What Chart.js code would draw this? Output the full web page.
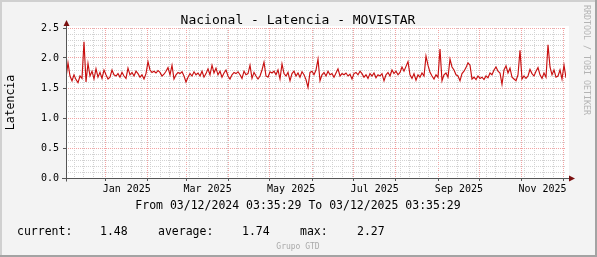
<!DOCTYPE html>
<html>
<head>
<meta charset="utf-8">
<script src="https://cdn.jsdelivr.net/npm/chart.js@4.4.1/dist/chart.umd.min.js"></script>
<style>
  html, body { margin: 0; padding: 0; background: #f3f3f3; }
  canvas { display: block; }
</style>
</head>
<body>
<canvas id="myChart" width="597" height="257"></canvas>
<script>
// daily-ish latency samples (left to right)
const latencia = [
    1.67, 1.92, 1.70, 1.62, 1.72, 1.64, 1.59, 1.70, 1.66, 2.27, 1.60, 1.91, 1.70, 1.78, 1.65, 1.82, 1.68, 1.76, 1.66, 1.80, 1.72, 1.65, 1.68, 1.80, 1.72,
    1.70, 1.74, 1.68, 1.76, 1.70, 1.66, 1.83, 1.72, 1.76, 1.70, 1.78, 1.74, 1.68, 1.72, 1.65, 1.74, 1.94, 1.80, 1.76, 1.78, 1.75, 1.79, 1.76, 1.70, 1.73,
    1.78, 1.84, 1.72, 1.88, 1.65, 1.72, 1.76, 1.74, 1.77, 1.70, 1.60, 1.68, 1.74, 1.70, 1.77, 1.72, 1.75, 1.70, 1.78, 1.68, 1.74, 1.82, 1.72, 1.88, 1.75,
    1.83, 1.72, 1.78, 1.68, 1.75, 1.80, 1.70, 1.65, 1.72, 1.76, 1.74, 1.77, 1.72, 1.66, 1.78, 1.72, 1.74, 1.88, 1.66, 1.76, 1.70, 1.65, 1.70, 1.80, 1.93,
    1.70, 1.68, 1.77, 1.75, 1.78, 1.72, 1.80, 1.65, 1.90, 1.74, 1.70, 1.76, 1.62, 1.74, 1.78, 1.70, 1.75, 1.68, 1.77, 1.72, 1.64, 1.51, 1.76, 1.78, 1.72,
    1.80, 1.98, 1.62, 1.72, 1.76, 1.70, 1.78, 1.72, 1.74, 1.68, 1.75, 1.82, 1.70, 1.74, 1.72, 1.75, 1.70, 1.73, 1.65, 1.74, 1.76, 1.72, 1.78, 1.74, 1.68,
    1.72, 1.66, 1.74, 1.70, 1.75, 1.67, 1.72, 1.70, 1.74, 1.62, 1.72, 1.76, 1.70, 1.80, 1.74, 1.78, 1.72, 1.76, 1.85, 1.78, 1.86, 1.94, 1.72, 1.66, 1.74,
    1.63, 1.72, 1.68, 1.75, 1.70, 2.03, 1.88, 1.76, 1.70, 1.65, 1.72, 1.68, 2.15, 1.62, 1.72, 1.75, 1.68, 1.98, 1.85, 1.80, 1.72, 1.70, 1.62, 1.74, 1.78,
    1.84, 1.92, 1.88, 1.65, 1.68, 1.64, 1.70, 1.66, 1.68, 1.64, 1.70, 1.67, 1.75, 1.72, 1.80, 1.85, 1.78, 1.75, 1.56, 1.80, 1.87, 1.75, 1.83, 1.68, 1.65,
    1.62, 1.72, 2.13, 1.65, 1.70, 1.66, 1.70, 1.81, 1.74, 1.70, 1.78, 1.84, 1.72, 1.66, 1.75, 1.68, 2.22, 1.85, 1.72, 1.80, 1.68, 1.70, 1.80, 1.65, 1.88, 1.67
];

const tickLabels = ['Jan 2025', 'Mar 2025', 'May 2025', 'Jul 2025', 'Sep 2025', 'Nov 2025'];
const labelMonths = [0, 2, 4, 6, 8, 10];   // months of 2025 that get a label

const legendNames = ['current:', 'average:', 'max:'];
const legendValues = ['1.48', '1.74', '2.27'];

const chartTitle = 'Nacional - Latencia - MOVISTAR';
const periodText = 'From 03/12/2024 03:35:29 To 03/12/2025 03:35:29';
const yTitle = 'Latencia';

const DAY = 86400000;
const startTime = Date.UTC(2024, 11, 3, 3, 35, 29);
const endTime = Date.UTC(2025, 11, 3, 3, 35, 29);
const spanDays = (endTime - startTime) / DAY;
const toDays = t => (t - startTime) / DAY;

const points = latencia.map((v, i) => ({ x: i * spanDays / (latencia.length - 1), y: v }));

const MONO = '"DejaVu Sans Mono", monospace';
Chart.defaults.font.family = MONO;

const majorGrid = '#f2a3a3';
const minorGrid = '#d2d2d2';

function buildTimeTicks(scale) {
    const ticks = [];
    const monthPos = [];
    for (let m = 0; m < 12; m++) {
        const d = toDays(Date.UTC(2025, m, 1));
        if (d > 0 && d < spanDays) {
            ticks.push({ value: d, kind: 'major' });
            monthPos.push(d);
        }
    }
    // weekly minor grid (mondays)
    for (let t = Date.UTC(2024, 11, 9); t < endTime; t += 7 * DAY) {
        const d = toDays(t);
        if (!monthPos.some(p => Math.abs(p - d) < 0.01)) ticks.push({ value: d, kind: 'minor' });
    }
    labelMonths.forEach((m, li) => {
        const mid = (toDays(Date.UTC(2025, m, 1)) + toDays(Date.UTC(2025, m + 1, 1))) / 2;
        ticks.push({ value: mid, kind: 'label', li: li });
    });
    ticks.sort((a, b) => a.value - b.value);
    scale.ticks = ticks;
}

const isMajorY = v => Math.round(v * 10) % 5 === 0;

const decor = {
    id: 'decor',
    beforeDraw(chart) {
        const c = chart.ctx, a = chart.chartArea;
        const W = chart.width, H = chart.height;
        c.save();
        c.fillStyle = '#f3f3f3';
        c.fillRect(0, 0, W, H);
        c.fillStyle = '#d0d0d0';
        c.fillRect(0, 0, W, 2);
        c.fillRect(0, 0, 2, H);
        c.fillStyle = '#a3a3a3';
        c.fillRect(0, H - 2, W, 2);
        c.fillRect(W - 2, 0, 2, H);
        c.fillStyle = '#ffffff';
        c.fillRect(a.left, a.top - 2, a.right - a.left + 3, a.bottom - a.top + 2);
        c.restore();
    },
    afterDraw(chart) {
        const c = chart.ctx, a = chart.chartArea;
        const x0 = Math.round(a.left) + 0.5, y0 = Math.round(a.bottom) + 0.5;
        c.save();
        // axes
        c.strokeStyle = '#555555';
        c.lineWidth = 1;
        c.beginPath();
        c.moveTo(x0, y0 + 3);
        c.lineTo(x0, a.top - 5);
        c.moveTo(a.left - 4, y0);
        c.lineTo(a.right + 5, y0);
        c.stroke();
        // arrows
        c.fillStyle = '#7a1010';
        c.beginPath();
        c.moveTo(x0, a.top - 8);
        c.lineTo(x0 - 3, a.top - 2);
        c.lineTo(x0 + 3, a.top - 2);
        c.closePath();
        c.fill();
        c.beginPath();
        c.moveTo(a.right + 9, y0);
        c.lineTo(a.right + 3, y0 - 3);
        c.lineTo(a.right + 3, y0 + 3);
        c.closePath();
        c.fill();

        // texts
        c.fillStyle = '#000000';
        c.textAlign = 'center';
        c.textBaseline = 'alphabetic';
        c.font = '13px ' + MONO;
        c.fillText(chartTitle, 298, 24);
        c.font = '11.5px ' + MONO;
        c.fillText(periodText, 298, 209);

        c.textAlign = 'left';
        const nameX = [17, 158, 300], valX = [100, 242, 357];
        legendNames.forEach((n, i) => {
            c.fillText(n, nameX[i], 235);
            c.fillText(legendValues[i], valX[i], 235);
        });

        c.save();
        c.translate(11, 102.5);
        c.rotate(-Math.PI / 2);
        c.textAlign = 'center';
        c.textBaseline = 'middle';
        c.fillText(yTitle, 0, 0);
        c.restore();

        c.fillStyle = '#aaaaaa';
        c.textAlign = 'center';
        c.font = '8px ' + MONO;
        c.fillText('Grupo GTD', 298, 249);

        c.save();
        c.translate(586.5, 60);
        c.rotate(Math.PI / 2);
        c.fillStyle = '#b4b4b4';
        c.font = '8.3px ' + MONO;
        c.textBaseline = 'middle';
        c.fillText('RRDTOOL / TOBI OETIKER', 0, 0);
        c.restore();
        c.restore();
    }
};

const ctx = document.getElementById('myChart').getContext('2d');

new Chart(ctx, {
    type: 'line',
    data: {
        datasets: [{
            label: yTitle,
            data: points,
            borderColor: '#c80f0f',
            borderWidth: 1.15,
            pointRadius: 0,
            tension: 0,
            fill: false
        }]
    },
    options: {
        responsive: false,
        animation: false,
        events: [],
        layout: { padding: { left: 0, top: 28, right: 31, bottom: 59 } },
        plugins: {
            legend: { display: false },
            tooltip: { enabled: false }
        },
        scales: {
            x: {
                type: 'linear',
                min: 0,
                max: spanDays,
                afterBuildTicks: buildTimeTicks,
                afterFit: s => { s.height = 20; },
                grid: {
                    color: c => c.tick.kind === 'major' ? majorGrid : (c.tick.kind === 'minor' ? minorGrid : 'rgba(0,0,0,0)'),
                    tickColor: c => c.tick.kind === 'major' ? '#555555' : 'rgba(0,0,0,0)',
                    tickLength: 3
                },
                border: { display: false, dash: [1, 1] },
                ticks: {
                    autoSkip: false,
                    maxRotation: 0,
                    minRotation: 0,
                    padding: 2,
                    color: '#000',
                    font: { size: 10, family: MONO },
                    callback: (v, i, ticks) => ticks[i].kind === 'label' ? tickLabels[ticks[i].li] : ''
                }
            },
            y: {
                min: 0,
                max: 2.5,
                afterFit: s => { s.width = 66; },
                grid: {
                    color: c => isMajorY(c.tick.value) ? majorGrid : minorGrid,
                    tickColor: c => isMajorY(c.tick.value) ? '#555555' : 'rgba(0,0,0,0)',
                    tickLength: 3
                },
                border: { display: false, dash: [1, 1] },
                ticks: {
                    stepSize: 0.1,
                    autoSkip: false,
                    padding: 4,
                    color: '#000',
                    font: { size: 10, family: MONO },
                    callback: v => isMajorY(v) ? v.toFixed(1) : ''
                }
            }
        }
    },
    plugins: [decor]
});
</script>
</body>
</html>
